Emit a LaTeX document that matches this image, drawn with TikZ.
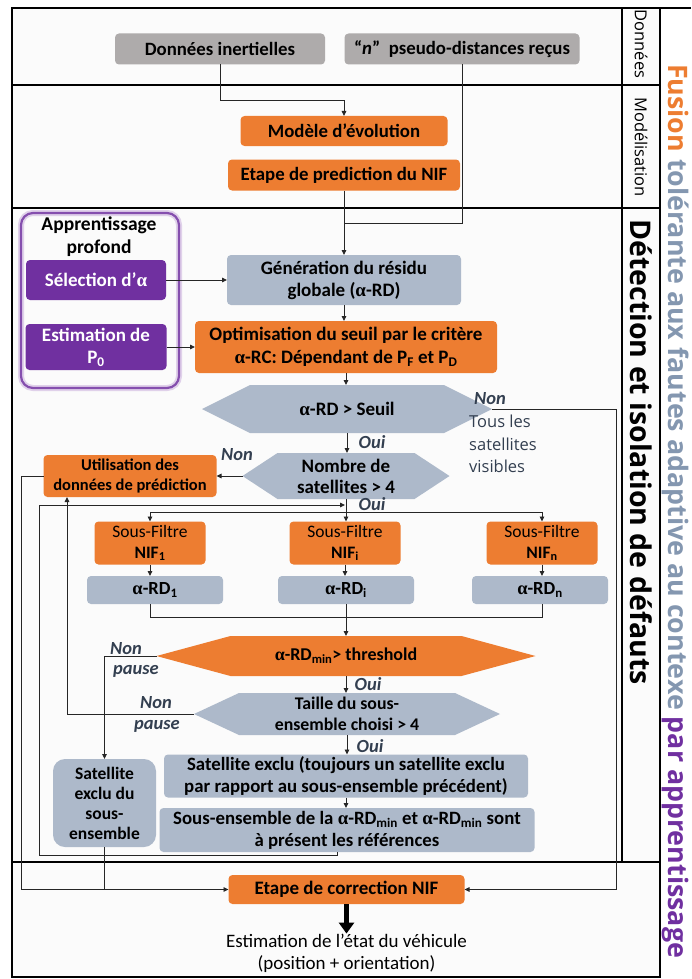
\documentclass[tikz,border=0pt]{standalone}
\usepackage{fontspec}
\setmainfont{Carlito}
\newfontfamily\osans{Open Sans}
\newfontfamily\grk{Liberation Serif}
\usetikzlibrary{arrows.meta,calc}
\definecolor{boxgray}{HTML}{AEABAB}
\definecolor{orng}{HTML}{ED7D31}
\definecolor{bluegray}{HTML}{ADB9CA}
\definecolor{purp}{HTML}{7030A0}
\definecolor{slate}{HTML}{333F50}
\definecolor{titleblue}{HTML}{8497B0}
\newcommand{\al}{{\grk α}}

\tikzset{
  box/.style={rounded corners=4pt, align=center, inner sep=2pt, outer sep=0pt,
    font=\fontsize{18.8}{22}\selectfont\bfseries},
  graybox/.style={box, fill=boxgray},
  orangebox/.style={box, fill=orng},
  bluebox/.style={box, fill=bluegray},
  purplebox/.style={box, fill=purp, text=white, font=\fontsize{19}{22}\selectfont\bfseries},
  hexa/.style 2 args={shape=rectangle, align=center, inner sep=2pt, outer sep=0pt,
    font=\fontsize{19}{21}\selectfont\bfseries,
    path picture={\fill[#1] (path picture bounding box.west)
      -- ([xshift=#2]path picture bounding box.north west)
      -- ([xshift=-#2]path picture bounding box.north east)
      -- (path picture bounding box.east)
      -- ([xshift=-#2]path picture bounding box.south east)
      -- ([xshift=#2]path picture bounding box.south west) -- cycle;}},
  conn/.style={line width=0.9pt, draw=black!85},
  arr/.style={-{Triangle[length=5pt,width=4.5pt]}},
  lbl/.style={font=\fontsize{18.5}{20}\selectfont\bfseries\itshape, text=slate, inner sep=0pt},
  frame/.style={line width=2.2pt},
  sidelabel/.style={rotate=-90, inner sep=0pt},
}

\begin{document}
\begin{tikzpicture}[x=1pt,y=-1pt]
    \useasboundingbox (0,0) rectangle (691,979);

    % Frame and bands
    \fill[black!1.5] (12,8) rectangle (660,977);
    \draw[frame] (12,8) rectangle (660,977);
    \draw[frame] (660,8) -- (691,8);
    \draw[frame] (622,8) -- (622,862);
    \foreach \yy in {85,208,862}
        \draw[frame] (12,\yy) -- (660,\yy);

    \node[sidelabel, font=\osans\fontsize{16.5}{16.5}\selectfont] (lbldon) at (641,44) {Données};
    \node[sidelabel, font=\osans\fontsize{16.5}{16.5}\selectfont] (lblmod) at (641,147) {Modélisation};
    \node[sidelabel, font=\osans\bfseries\fontsize{28.5}{28.5}\selectfont] (lbldet) at (641,452) {Détection et isolation de défauts};
    \node[sidelabel, font=\osans\bfseries\fontsize{26.8}{26.8}\selectfont] (title) at (676,511)
        {\textcolor{orng}{Fusion} \textcolor{titleblue}{tolérante aux fautes adaptive au contexe} \textcolor{purp}{par apprentissage}};

    % Donnees
    \node[graybox, minimum width=210pt, minimum height=31pt] (inert) at (220,49) {Données inertielles};
    \node[graybox, minimum width=235pt, minimum height=31pt] (pseudo) at (462,49) {“\textit{n}”\ \ pseudo-distances reçus};

    % Modelisation
    \node[orangebox, minimum width=207pt, minimum height=30pt] (evol) at (344,131) {Modèle d’évolution};
    \node[orangebox, minimum width=232pt, minimum height=31pt] (predic) at (344,175) {Etape de prediction du NIF};

    % Apprentissage profond
    \draw[purp!22, line width=6pt, rounded corners=12pt] (21,213) rectangle (179,388);
    \draw[purp!85, line width=2.2pt, rounded corners=12pt] (21,213) rectangle (179,388);
    \node[font=\fontsize{19.5}{23}\selectfont\bfseries, align=center] (appr) at (99,237) {Apprentissage\\profond};
    \node[purplebox, minimum width=140pt, minimum height=40pt] (alpha) at (96,280) {Sélection d’\al};
    \node[purplebox, minimum width=141pt, minimum height=46pt] (pzero) at (96,347) {Estimation de\\P\textsubscript{0}};

    % Detection
    \node[bluebox, minimum width=234pt, minimum height=50pt, font=\fontsize{19}{22}\selectfont\bfseries] (resid) at (344,280) {Génération du résidu\\globale (\al-RD)};
    \node[orangebox, minimum width=302pt, minimum height=52pt, font=\fontsize{19}{23}\selectfont\bfseries] (seuilopt) at (346,347)
        {Optimisation du seuil par le critère\\\al-RC: Dépendant de P\textsubscript{F} et P\textsubscript{D}};
    \node[hexa={bluegray}{48pt}, minimum width=290pt, minimum height=48pt] (test) at (347,409) {\al-RD > Seuil};
    \node[anchor=north west, font=\osans\fontsize{16.5}{22.5}\selectfont, text=slate, align=left, inner sep=0pt] (tous) at (469,415)
        {Tous les\\satellites\\visibles};
    \node[hexa={bluegray}{35pt}, minimum width=207pt, minimum height=46pt] (nbsat) at (346,476) {Nombre de\\satellites > 4};
    \node[orangebox, minimum width=173pt, minimum height=42pt, font=\fontsize{16.5}{20}\selectfont\bfseries] (useprd) at (130,476)
        {Utilisation des\\données de prédiction};

    % Sous-filtres
    \foreach \k/\xf/\xr in {1/150/155, i/345/346, n/542/540} {
        \node[orangebox, minimum width=111pt, minimum height=43pt, font=\fontsize{17.5}{21}\selectfont\bfseries] (sf\k) at (\xf,543)
            {{\mdseries Sous-Filtre}\\NIF\textsubscript{\k}};
        \node[bluebox, minimum width=136pt, minimum height=28pt, font=\fontsize{18.5}{20}\selectfont\bfseries] (rd\k) at (\xr,590)
            {\al-RD\textsubscript{\k}};
        \draw[conn,arr] (sf\k.south) -- (sf\k.south |- rd\k.north);
    }

    \node[hexa={orng}{74pt}, minimum width=379pt, minimum height=40pt, font=\fontsize{18}{20}\selectfont\bfseries] (thr) at (346,656) {\al-RD\textsubscript{min}> threshold};
    \node[hexa={bluegray}{45pt}, minimum width=306pt, minimum height=42pt, font=\fontsize{17.8}{21}\selectfont\bfseries] (taille) at (347,714) {Taille du sous-\\ensemble choisi > 4};
    \node[bluebox, rounded corners=12pt, minimum width=103pt, minimum height=88pt, font=\fontsize{17.5}{20}\selectfont\bfseries] (satex) at (104.5,803)
        {Satellite\\exclu du\\sous-\\ensemble};
    \node[bluebox, minimum width=364pt, minimum height=43pt] (excl) at (346,776)
        {Satellite exclu (toujours un satellite exclu\\par rapport au sous-ensemble précédent)};
    \node[bluebox, minimum width=375pt, minimum height=44pt] (ref) at (347,830)
        {Sous-ensemble de la \al-RD\textsubscript{min} et \al-RD\textsubscript{min} sont\\à présent les références};

    % Correction
    \node[orangebox, minimum width=236pt, minimum height=29pt, font=\fontsize{19}{22}\selectfont\bfseries] (corr) at (346.5,889.5) {Etape de correction NIF};
    \node[font=\fontsize{19}{22}\selectfont, align=center, inner sep=0pt] (etat) at (346.5,953)
        {Estimation de l’état du véhicule\\(position + orientation)};

    % Connectors
    \coordinate (junc) at (344,223);
    \coordinate (fork) at (346,512);
    \coordinate (back) at (67,714);
    \coordinate (loop) at (39,855);
    \coordinate (reentry) at (345,505);

    \draw[conn,arr] (inert.south) -- ++(0,36) -| (evol.north);
    \draw[conn] (pseudo.south) |- (junc);
    \draw[conn,arr] (predic.south) -- (resid.north);
    \draw[conn,arr] (alpha.east) -- (resid.west);
    \draw[conn,arr] (pzero.east) -- (seuilopt.west);
    \draw[conn,arr] (resid.south) -- (resid.south |- seuilopt.north);
    \draw[conn,arr] (seuilopt.south) -- (seuilopt.south |- test.north);
    \draw[conn,arr] (test.south) -- (test.south |- nbsat.north);
    \draw[conn,arr] (test.east) -- ++(124,0) |- (corr.east);
    \draw[conn,arr] (nbsat.west) -- (useprd.east);
    \draw[conn,arr] (useprd.west) -- ++(-22,0) |- (corr.west);
    \draw[conn,arr] (nbsat.south) -- (nbsat.south |- sfi.north);
    \draw[conn,arr] (fork) -| (sf1.north);
    \draw[conn,arr] (fork) -| (sfn.north);
    \draw[conn] (sf1.south |- rd1.south) -- ++(0,13) -| (sfn.south |- rdn.south);
    \draw[conn,arr] (rdi.south) -- (rdi.south |- thr.north);
    \draw[conn,arr] (thr.south) -- (thr.south |- taille.north);
    \draw[conn,arr] (thr.west) -| (satex.north);
    \draw[conn,arr] (taille.west) -- (back) -- (back |- useprd.south);
    \draw[conn,arr] (taille.south) -- (taille.south |- excl.north);
    \draw[conn,arr] (excl.south) -- (excl.south |- ref.north);
    \draw[conn,arr] ([xshift=-10pt]ref.south) |- (loop) |- (reentry);
    \draw[conn] (satex.south) -- (satex.south |- corr.west);
    \draw[line width=4.5pt, -{Triangle[length=11pt,width=15pt]}] (corr.south) -- (corr.south |- etat.north);

    % Labels
    \node[lbl] (oui1) at (372,442) {Oui};
    \node[lbl] (non1) at (490,399) {Non};
    \node[lbl] (non2) at (237,455) {Non};
    \node[lbl] (oui2) at (372,504) {Oui};
    \node[lbl] (non3) at (126,649) {Non};
    \node[lbl] (pause1) at (136,671) {pause};
    \node[lbl] (oui3) at (368,684) {Oui};
    \node[lbl] (non4) at (156,703) {Non};
    \node[lbl] (pause2) at (157,726) {pause};
    \node[lbl] (oui4) at (370,746) {Oui};
\end{tikzpicture}
\end{document}
